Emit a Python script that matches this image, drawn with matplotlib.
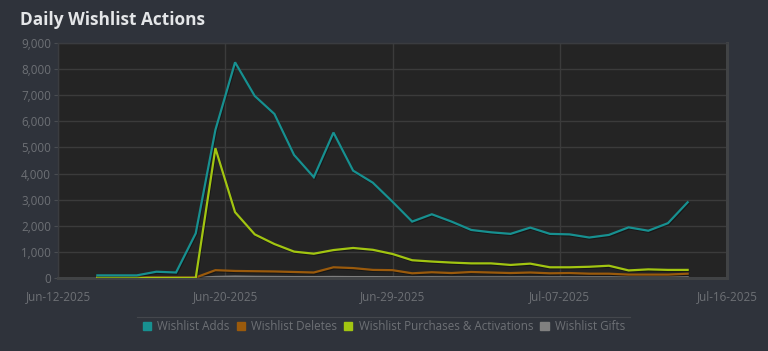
import numpy as np
import pandas as pd
import matplotlib
matplotlib.use("Agg")
import matplotlib.pyplot as plt
import matplotlib.patheffects as pe
from matplotlib.patches import Patch
from matplotlib.lines import Line2D

# daily values, Jun-14-2025 .. Jul-14-2025
dates = pd.date_range("2025-06-14", periods=31, freq="D")
adds = [100, 100, 100, 240, 210, 1710, 5670, 8260, 6970, 6280, 4710, 3860, 5570, 4110,
        3650, 2920, 2160, 2440, 2160, 1840, 1750, 1690, 1930, 1690, 1670, 1550, 1650,
        1940, 1810, 2100, 2900]
deletes = [20, 20, 20, 20, 20, 20, 300, 270, 260, 250, 230, 210, 410, 380, 310, 300,
           180, 220, 190, 230, 210, 190, 210, 180, 190, 165, 165, 130, 130, 130, 165]
purchases = [0, 0, 0, 0, 0, 0, 4970, 2520, 1670, 1300, 1010, 930, 1070, 1150, 1080, 920,
             680, 630, 590, 560, 560, 500, 550, 410, 410, 430, 470, 290, 330, 310, 310]
gifts = [5, 5, 5, 5, 5, 5, 40, 55, 45, 40, 35, 35, 40, 35, 35, 30,
         25, 30, 25, 25, 25, 25, 25, 25, 25, 25, 25, 20, 20, 20, 25]

series_names = ["Wishlist Adds", "Wishlist Deletes", "Wishlist Purchases & Activations", "Wishlist Gifts"]
colors = ["#179090", "#9a5a0c", "#a2c511", "#808080"]

tick_pos = pd.to_datetime(["2025-06-12 00:00", "2025-06-20 12:00", "2025-06-29 00:00",
                           "2025-07-07 12:00", "2025-07-16 00:00"], format="%Y-%m-%d %H:%M")
tick_labels = ["Jun-12-2025", "Jun-20-2025", "Jun-29-2025", "Jul-07-2025", "Jul-16-2025"]

plt.rcParams["font.family"] = ["Open Sans", "DejaVu Sans"]

fig = plt.figure(figsize=(7.68, 3.51), dpi=100, facecolor="#2f333b")
ax = fig.add_axes([58 / 768, 73 / 351, 669 / 768, 235 / 351])
ax.set_facecolor("#242424")

shadow = [pe.SimpleLineShadow(offset=(0.6, -0.8), shadow_color="black", alpha=0.35),
          pe.Normal()]
data = [adds, deletes, purchases, gifts]
zo = [5, 3, 4, 2]
for vals, col, name, z in zip(data, colors, series_names, zo):
    ax.plot(dates, vals, color=col, lw=1.6, zorder=z, path_effects=shadow,
            solid_joinstyle="miter")

ax.set_xlim(tick_pos[0], tick_pos[-1])
ax.set_ylim(0, 9000)
ax.set_xticks(tick_pos)
ax.set_xticklabels(tick_labels)
ax.set_yticks(np.arange(0, 9001, 1000))
ax.set_yticklabels(["{:,}".format(v) for v in range(0, 9001, 1000)])

ax.grid(True, color="#3b3b3b", lw=1.0)
ax.set_axisbelow(True)
for s in ["left", "top"]:
    ax.spines[s].set_color("#3a3c40")
    ax.spines[s].set_linewidth(1.0)
for s in ["right", "bottom"]:
    ax.spines[s].set_color("#414345")
    ax.spines[s].set_linewidth(2.2)

ax.tick_params(axis="y", colors="#4a4d52", labelcolor="#6d7075", labelsize=8.4,
               length=3, pad=2)
ax.tick_params(axis="x", colors="#2f333b", labelcolor="#6d7075", labelsize=8.4,
               length=4, pad=5)

fig.text(20 / 768, 1 - 20 / 351, "Daily Wishlist Actions", color="#e4e6e8",
         fontsize=12.4, fontweight="bold", va="center", ha="left")

# legend with separator line above it
fig.add_artist(Line2D([137 / 768, 630 / 768], [1 - 316.5 / 351] * 2,
                      color="#44474d", lw=0.8))
handles = [Patch(facecolor=c, edgecolor=c) for c in colors]
leg = fig.legend(handles, series_names, loc="center", ncol=4,
                 bbox_to_anchor=(384 / 768, 1 - 326.5 / 351), frameon=False,
                 fontsize=8.4, handlelength=0.7, handleheight=0.7,
                 handletextpad=0.55, columnspacing=0.6, labelcolor="#6d7075")

fig.savefig("out.png", dpi=100, facecolor=fig.get_facecolor())
